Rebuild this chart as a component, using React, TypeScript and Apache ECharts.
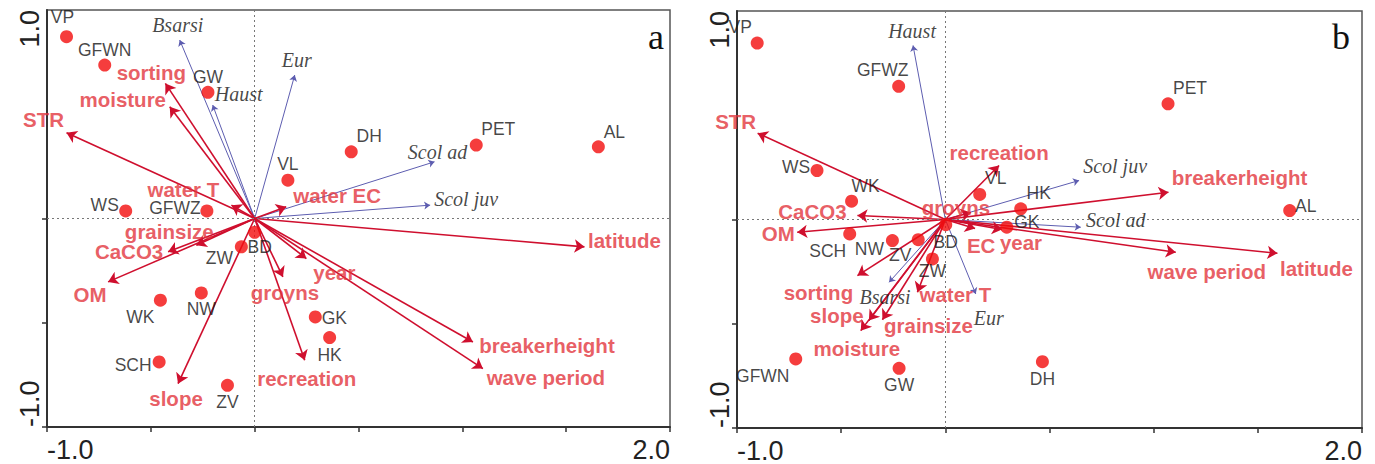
import React, { useEffect, useRef } from 'react';
import * as echarts from 'echarts';

type Pt = [string, number, number];

// ---------- Panel a ----------
const sitesA: Pt[] = [
  ['VP', -0.906, 0.872], ['GFWN', -0.722, 0.736], ['GW', -0.225, 0.605],
  ['WS', -0.621, 0.036], ['GFWZ', -0.23, 0.036], ['VL', 0.16, 0.184],
  ['DH', 0.465, 0.32], ['PET', 1.067, 0.352], ['AL', 1.655, 0.344],
  ['BD', 0.0, -0.066], ['ZW', -0.064, -0.136], ['NW', -0.257, -0.357],
  ['WK', -0.454, -0.392], ['SCH', -0.46, -0.688], ['ZV', -0.131, -0.8],
  ['GK', 0.292, -0.472], ['HK', 0.361, -0.571],
];
const envA: Pt[] = [
  ['sorting', -0.43, 0.648], ['moisture', -0.409, 0.536], ['STR', -0.906, 0.411],
  ['water T', -0.112, 0.064], ['water EC', 0.152, 0.056], ['grainsize', -0.281, -0.128],
  ['CaCO3', -0.417, -0.16], ['OM', -0.706, -0.304], ['slope', -0.369, -0.792],
  ['groyns', 0.136, -0.28], ['recreation', 0.241, -0.68], ['year', 0.249, -0.192],
  ['breakerheight', 1.051, -0.592], ['wave period', 1.099, -0.72], ['latitude', 1.588, -0.136],
];
const speciesA: Pt[] = [
  ['Bsarsi', -0.361, 0.856], ['Haust', -0.202, 0.544], ['Eur', 0.193, 0.688],
  ['Scol ad', 0.866, 0.272], ['Scol juv', 0.845, 0.064],
];

// ---------- Panel b ----------
const sitesB: Pt[] = [
  ['VP', -0.903, 0.846], ['GFWZ', -0.224, 0.639], ['WS', -0.616, 0.235],
  ['WK', -0.45, 0.088], ['VL', 0.165, 0.12], ['HK', 0.362, 0.051],
  ['GK', 0.295, -0.037], ['AL', 1.653, 0.043], ['PET', 1.069, 0.555],
  ['BD', 0.002, -0.025], ['SCH', -0.459, -0.069], ['NW', -0.254, -0.101],
  ['ZV', -0.13, -0.097], ['ZW', -0.062, -0.189], ['GFWN', -0.718, -0.669],
  ['GW', -0.222, -0.714], ['DH', 0.466, -0.682],
];
const envB: Pt[] = [
  ['STR', -0.901, 0.414], ['recreation', 0.258, 0.259], ['breakerheight', 1.071, 0.131],
  ['CaCO3', -0.422, 0.019], ['OM', -0.711, -0.061], ['groyns', 0.123, 0.034],
  ['EC', 0.143, -0.043], ['year', 0.272, -0.048], ['wave period', 1.106, -0.157],
  ['latitude', 1.594, -0.162], ['sorting', -0.422, -0.269], ['slope', -0.367, -0.485],
  ['moisture', -0.406, -0.533], ['grainsize', -0.302, -0.481], ['water T', -0.134, -0.349],
];
const speciesB: Pt[] = [
  ['Haust', -0.155, 0.835], ['Scol juv', 0.642, 0.187], ['Scol ad', 0.65, -0.037],
  ['Bsarsi', -0.27, -0.301], ['Eur', 0.146, -0.357],
];

// axis ranges and end tick labels
const X_MIN = -1, X_MAX = 2, Y_MIN = -1, Y_MAX = 1, STEP = 0.5;
const xEndLabels = ['-1.0', '2.0'];
const yEndLabels = ['-1.0', '1.0'];
const panelLetters = ['a', 'b'];

// ---------- label placement (pixel offsets from the mark, layout only) ----------
const siteOffA: Record<string, [number, number]> = {
  VP: [-4, -20], GFWN: [0, -15], GW: [0, -15], WS: [-21, -6], GFWZ: [-32, -3],
  VL: [0, -16], DH: [18, -16], PET: [22, -16], AL: [16, -15], BD: [5, 15],
  ZW: [-22, 11], NW: [0, 16], WK: [-20, 17], SCH: [-26, 3], ZV: [0, 17],
  GK: [19, 1], HK: [0, 17],
};
const envOffA: Record<string, [number, number]> = {
  sorting: [-14, -11], moisture: [-47, -7], STR: [-23, -13], 'water T': [-48, -16],
  'water EC': [51, -11], grainsize: [-27, -14], CaCO3: [-39, 0], OM: [-18, 13],
  slope: [-2, 15], groyns: [2, 16], recreation: [2, 18], year: [28, 14],
  breakerheight: [74, 4], 'wave period': [63, 9], latitude: [40, -6],
};
const spOffA: Record<string, [number, number]> = {
  Bsarsi: [-2, -15], Haust: [26, -11], Eur: [2, -15], 'Scol ad': [3, -10], 'Scol juv': [36, -6],
};
const siteOffB: Record<string, [number, number]> = {
  VP: [-17, -16], GFWZ: [-16, -16], WS: [-21, -4], WK: [14, -15], VL: [16, -16],
  HK: [18, -16], GK: [20, -5], AL: [16, -5], PET: [22, -16], BD: [0, 17],
  SCH: [-22, 17], NW: [-23, 8], ZV: [-18, 15], ZW: [0, 12], GFWN: [-33, 17],
  GW: [0, 17], DH: [0, 17],
};
const envOffB: Record<string, [number, number]> = {
  STR: [-22, -12], recreation: [0, -13], breakerheight: [71, -15], CaCO3: [-45, -4],
  OM: [-19, 1], groyns: [-15, -5], EC: [6, 17], year: [19, 13], 'wave period': [31, 19],
  latitude: [39, 15], sorting: [-39, 17], slope: [-32, -5], moisture: [-4, 18],
  grainsize: [46, 6], 'water T': [38, 2],
};
const spOffB: Record<string, [number, number]> = {
  Haust: [-1, -14], 'Scol juv': [36, -15], 'Scol ad': [35, -7], Bsarsi: [-4, 15], Eur: [13, 24],
};

const RED_ARROW = '#cf0f2e';
const RED_TEXT = '#e2343c';
const BLUE_ARROW = '#5d5db0';
const DOT = '#f20d0d';
const SANS = 'Liberation Sans, Arial, sans-serif';
const SERIF = 'Liberation Serif, Times New Roman, serif';

function arrowSeries(pts: Pt[], i: number, color: string, width: number, size: number, z: number) {
  return {
    type: 'lines',
    coordinateSystem: 'cartesian2d',
    xAxisIndex: i,
    yAxisIndex: i,
    z,
    silent: true,
    symbol: ['none', 'arrow'],
    symbolSize: size,
    lineStyle: { color, width, opacity: 1 },
    data: pts.map((p) => ({ coords: [[0, 0], [p[1], p[2]]] })),
  };
}

function labelSeries(pts: Pt[], offs: Record<string, [number, number]>, i: number, textStyle: any, z: number) {
  return {
    type: 'scatter',
    xAxisIndex: i,
    yAxisIndex: i,
    z,
    silent: true,
    symbolSize: 1,
    itemStyle: { color: 'rgba(0,0,0,0)' },
    label: { show: true, position: 'inside', formatter: '{b}', ...textStyle },
    data: pts.map((p) => ({ name: p[0], value: [p[1], p[2]], label: { offset: offs[p[0]] || [0, 0] } })),
  };
}

function panelSeries(i: number, sites: Pt[], env: Pt[], sp: Pt[], so: any, eo: any, po: any) {
  return [
    {
      type: 'scatter',
      xAxisIndex: i,
      yAxisIndex: i,
      data: [],
      silent: true,
      markLine: {
        silent: true,
        symbol: ['none', 'none'],
        label: { show: false },
        lineStyle: { type: [2, 3], color: '#777', width: 1 },
        data: [{ xAxis: 0 }, { yAxis: 0 }],
      },
    },
    arrowSeries(sp, i, BLUE_ARROW, 1, 6, 3),
    arrowSeries(env, i, RED_ARROW, 1.6, 10, 4),
    {
      type: 'scatter',
      xAxisIndex: i,
      yAxisIndex: i,
      z: 5,
      silent: true,
      symbolSize: 13,
      itemStyle: { color: DOT },
      label: {
        show: true, position: 'inside', formatter: '{b}',
        fontFamily: SANS, fontSize: 17.5, color: '#161616',
      },
      data: sites.map((p) => ({ name: p[0], value: [p[1], p[2]], label: { offset: so[p[0]] || [0, 0] } })),
    },
    labelSeries(env, eo, i, { fontFamily: SANS, fontSize: 20.5, fontWeight: 'bold', color: RED_TEXT }, 6),
    labelSeries(sp, po, i, { fontFamily: SERIF, fontSize: 20, fontStyle: 'italic', color: '#161616' }, 6),
  ];
}

const axisLineStyle = { color: '#333', width: 2 };

function xAxis(i: number) {
  return {
    type: 'value', gridIndex: i, min: X_MIN, max: X_MAX, interval: STEP,
    axisLine: { show: true, onZero: false, lineStyle: axisLineStyle },
    axisTick: { show: true, length: 5, lineStyle: { color: '#333', width: 1.5 } },
    splitLine: { show: false },
    axisLabel: {
      showMinLabel: true, showMaxLabel: true,
      formatter: (v: number) => (v === X_MIN ? xEndLabels[0] : v === X_MAX ? xEndLabels[1] : ''),
      fontFamily: SANS, fontSize: 27, color: '#222', margin: 9,
      alignMinLabel: 'left', alignMaxLabel: 'right',
    },
  };
}
function yAxis(i: number) {
  return {
    type: 'value', gridIndex: i, min: Y_MIN, max: Y_MAX, interval: STEP,
    axisLine: { show: true, onZero: false, lineStyle: axisLineStyle },
    axisTick: { show: true, length: 5, customValues: [-1, -0.5, 0], lineStyle: { color: '#333', width: 1.5 } },
    splitLine: { show: false },
    axisLabel: {
      showMinLabel: true, showMaxLabel: true, rotate: 90,
      formatter: (v: number) => (v === Y_MIN ? yEndLabels[0] : v === Y_MAX ? yEndLabels[1] : ''),
      fontFamily: SANS, fontSize: 27, color: '#222', margin: 4,
      alignMinLabel: 'left', alignMaxLabel: 'right',
    },
  };
}

export default function App() {
  const ref = useRef<HTMLDivElement>(null);
  useEffect(() => {
    if (!ref.current) return;
    const chart = echarts.init(ref.current, null, { renderer: 'svg' });
    const gridStyle = { show: true, borderColor: '#555', borderWidth: 1.5, backgroundColor: '#fff', containLabel: false };
    chart.setOption({
      animation: false,
      backgroundColor: '#fff',
      title: [
        { text: panelLetters[0], left: 643, top: 14, textStyle: { fontFamily: SERIF, fontSize: 36, fontWeight: 'normal', color: '#111' } },
        { text: panelLetters[1], left: 1327, top: 14, textStyle: { fontFamily: SERIF, fontSize: 36, fontWeight: 'normal', color: '#111' } },
      ],
      grid: [
        { ...gridStyle, left: 47, top: 10, width: 623, height: 417 },
        { ...gridStyle, left: 737, top: 11, width: 625, height: 417 },
      ],
      xAxis: [xAxis(0), xAxis(1)],
      yAxis: [yAxis(0), yAxis(1)],
      series: [
        ...panelSeries(0, sitesA, envA, speciesA, siteOffA, envOffA, spOffA),
        ...panelSeries(1, sitesB, envB, speciesB, siteOffB, envOffB, spOffB),
      ],
    });
    return () => chart.dispose();
  }, []);
  return (
    <div
      ref={ref}
      style={{ position: 'absolute', left: 0, top: 0, width: 1375, height: 464, background: '#fff' }}
    />
  );
}
